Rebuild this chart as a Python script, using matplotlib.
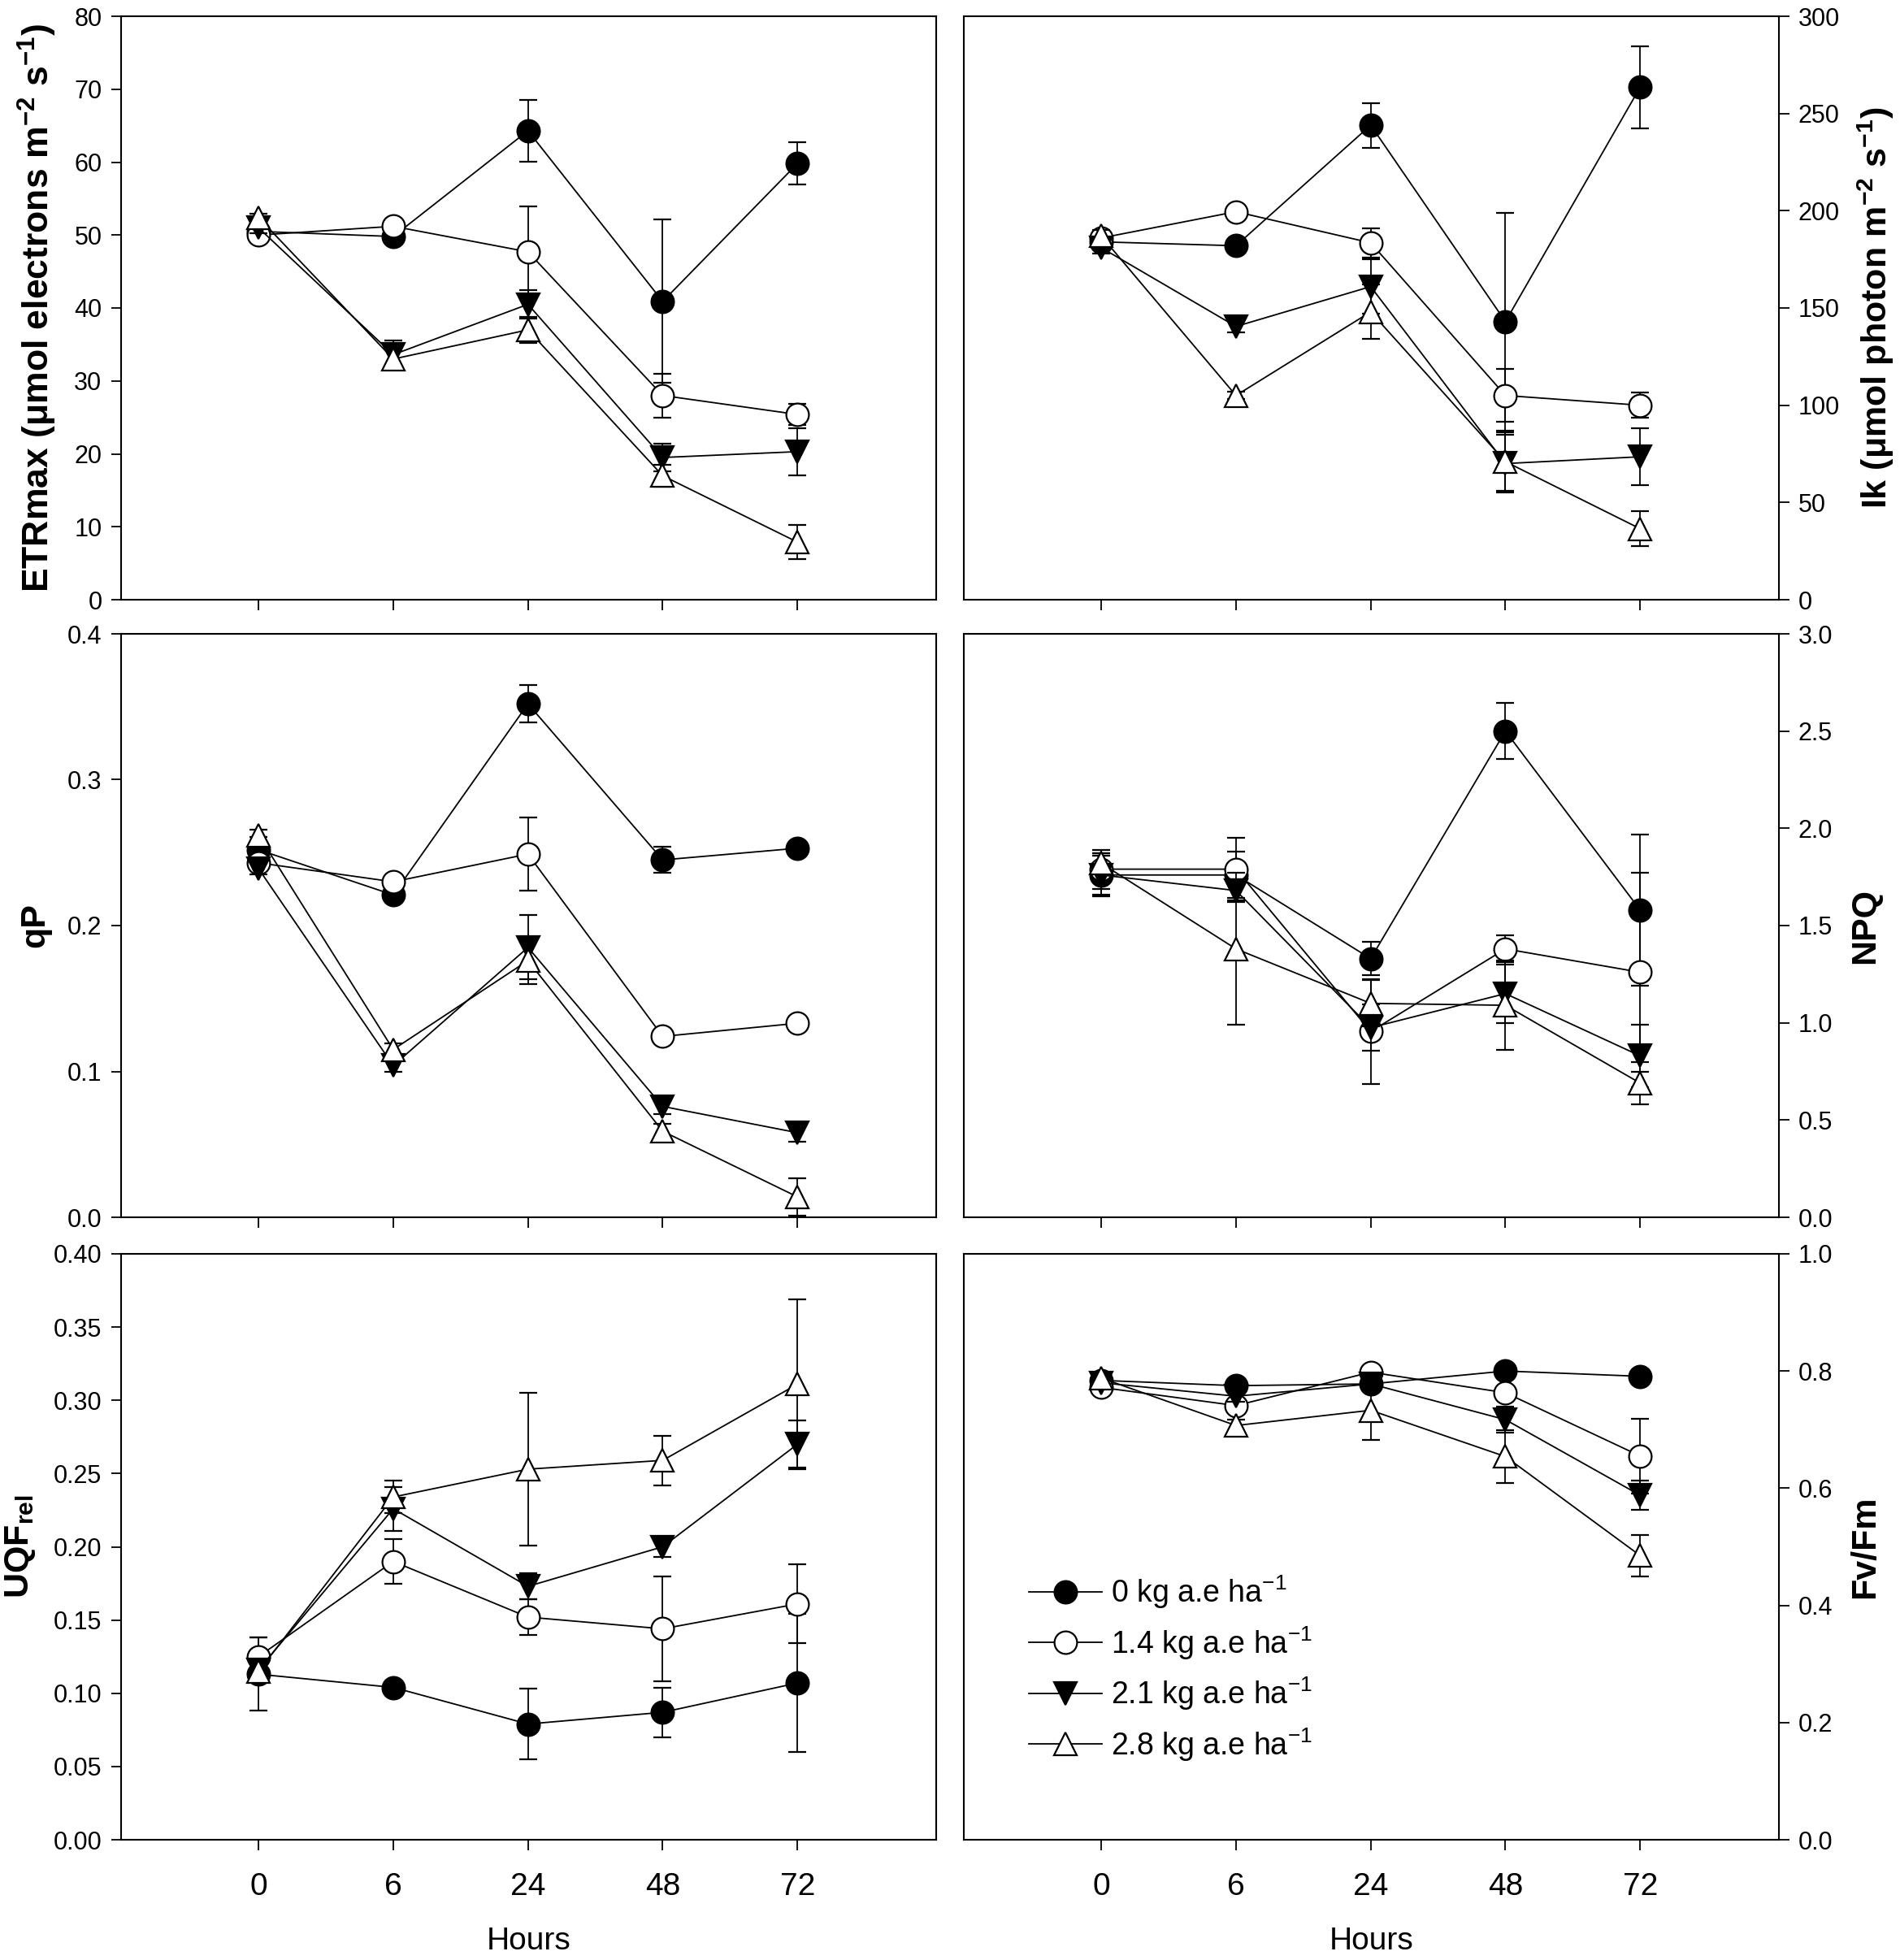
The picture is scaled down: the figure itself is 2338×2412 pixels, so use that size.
import matplotlib
matplotlib.use("Agg")
import matplotlib.pyplot as plt
from matplotlib import font_manager as fm
from matplotlib.lines import Line2D
import numpy as np

names = {f.name for f in fm.fontManager.ttflist}
NARROW = "Liberation Sans Narrow" if "Liberation Sans Narrow" in names else "Liberation Sans"
SANS = "Liberation Sans"

plt.rcParams["font.family"] = [SANS, "DejaVu Sans"]
plt.rcParams["mathtext.default"] = "regular"

# ---------------- data ----------------
hours = ["0", "6", "24", "48", "72"]
treatments = ["0 kg a.e ha$^{-1}$", "1.4 kg a.e ha$^{-1}$",
              "2.1 kg a.e ha$^{-1}$", "2.8 kg a.e ha$^{-1}$"]

etr_0 = [50.5, 49.8, 64.3, 40.9, 59.8]
etr_0_err = [0.5, 0.5, 4.2, 11.2, 2.9]
etr_14 = [50.0, 51.2, 47.7, 28.0, 25.4]
etr_14_err = [0.5, 0.5, 6.2, 3.0, 1.4]
etr_21 = [51.0, 33.6, 40.5, 19.5, 20.3]
etr_21_err = [0.8, 1.9, 2.0, 1.9, 3.2]
etr_28 = [52.4, 33.0, 37.0, 17.0, 7.9]
etr_28_err = [0.5, 1.2, 1.8, 1.5, 2.3]

ik_0 = [184, 182, 244, 143, 263.5]
ik_0_err = [3, 2, 11.5, 56, 21]
ik_14 = [186, 199.5, 183.5, 105, 100]
ik_14_err = [3, 2, 7.5, 13.5, 6.5]
ik_21 = [181, 140.5, 161, 70, 73.5]
ik_21_err = [3, 3, 14, 15, 14.5]
ik_28 = [187, 105, 148, 71, 36.5]
ik_28_err = [3, 2, 14, 15, 9]

qp_0 = [0.252, 0.221, 0.352, 0.245, 0.253]
qp_0_err = [0.009, 0.003, 0.013, 0.009, 0.003]
qp_14 = [0.243, 0.230, 0.249, 0.124, 0.133]
qp_14_err = [0.004, 0.003, 0.025, 0.003, 0.003]
qp_21 = [0.239, 0.104, 0.185, 0.076, 0.058]
qp_21_err = [0.004, 0.004, 0.022, 0.005, 0.006]
qp_28 = [0.262, 0.115, 0.176, 0.059, 0.014]
qp_28_err = [0.004, 0.004, 0.016, 0.005, 0.013]

npq_0 = [1.76, 1.76, 1.33, 2.50, 1.58]
npq_0_err = [0.11, 0.12, 0.085, 0.145, 0.39]
npq_14 = [1.79, 1.79, 0.955, 1.38, 1.26]
npq_14_err = [0.10, 0.16, 0.27, 0.07, 0.51]
npq_21 = [1.76, 1.68, 0.975, 1.15, 0.83]
npq_21_err = [0.10, 0.06, 0.12, 0.15, 0.16]
npq_28 = [1.82, 1.38, 1.10, 1.09, 0.69]
npq_28_err = [0.05, 0.39, 0.12, 0.23, 0.11]

uqf_0 = [0.113, 0.104, 0.079, 0.087, 0.107]
uqf_0_err = [0.025, 0.004, 0.024, 0.017, 0.047]
uqf_14 = [0.125, 0.190, 0.152, 0.144, 0.161]
uqf_14_err = [0.013, 0.015, 0.012, 0.036, 0.027]
uqf_21 = [0.116, 0.226, 0.173, 0.200, 0.270]
uqf_21_err = [0.005, 0.015, 0.009, 0.007, 0.016]
uqf_28 = [0.115, 0.234, 0.253, 0.259, 0.311]
uqf_28_err = [0.005, 0.011, 0.052, 0.017, 0.058]

fvfm_0 = [0.784, 0.775, 0.778, 0.800, 0.791]
fvfm_0_err = [0.005, 0.005, 0.005, 0.005, 0.005]
fvfm_14 = [0.772, 0.741, 0.798, 0.763, 0.655]
fvfm_14_err = [0.005, 0.010, 0.005, 0.010, 0.064]
fvfm_21 = [0.780, 0.757, 0.778, 0.717, 0.588]
fvfm_21_err = [0.005, 0.010, 0.010, 0.022, 0.025]
fvfm_28 = [0.788, 0.707, 0.733, 0.654, 0.485]
fvfm_28_err = [0.005, 0.010, 0.050, 0.045, 0.035]

# ---------------- styles ----------------
styles = [
    dict(marker="o", mfc="black", ms=20),
    dict(marker="o", mfc="white", ms=20),
    dict(marker="v", mfc="black", ms=20),
    dict(marker="^", mfc="white", ms=20),
]

panels = [
    dict(series=[(etr_0, etr_0_err), (etr_14, etr_14_err), (etr_21, etr_21_err), (etr_28, etr_28_err)],
         ylim=(0, 80), ticks=np.arange(0, 81, 10), fmt="{:.0f}",
         label="ETRmax (μmol electrons m$^{-2}$ s$^{-1}$)", side="left", lsize=32),
    dict(series=[(ik_0, ik_0_err), (ik_14, ik_14_err), (ik_21, ik_21_err), (ik_28, ik_28_err)],
         ylim=(0, 300), ticks=np.arange(0, 301, 50), fmt="{:.0f}",
         label="Ik (μmol photon m$^{-2}$ s$^{-1}$)", side="right", lsize=31),
    dict(series=[(qp_0, qp_0_err), (qp_14, qp_14_err), (qp_21, qp_21_err), (qp_28, qp_28_err)],
         ylim=(0, 0.4), ticks=np.arange(0, 0.41, 0.1), fmt="{:.1f}",
         label="qP", side="left", lsize=31),
    dict(series=[(npq_0, npq_0_err), (npq_14, npq_14_err), (npq_21, npq_21_err), (npq_28, npq_28_err)],
         ylim=(0, 3.0), ticks=np.arange(0, 3.01, 0.5), fmt="{:.1f}",
         label="NPQ", side="right", lsize=31),
    dict(series=[(uqf_0, uqf_0_err), (uqf_14, uqf_14_err), (uqf_21, uqf_21_err), (uqf_28, uqf_28_err)],
         ylim=(0, 0.40), ticks=np.arange(0, 0.401, 0.05), fmt="{:.2f}",
         label="UQF$_{rel}$", side="left", lsize=31),
    dict(series=[(fvfm_0, fvfm_0_err), (fvfm_14, fvfm_14_err), (fvfm_21, fvfm_21_err), (fvfm_28, fvfm_28_err)],
         ylim=(0, 1.0), ticks=np.arange(0, 1.01, 0.2), fmt="{:.1f}",
         label="Fv/Fm", side="right", lsize=31),
]

W, H = 2338, 2412
fig = plt.figure(figsize=(W / 100, H / 100), dpi=100)

col_x = [149 / W, 1186 / W]
col_w = 1003 / W
row_top = [20, 780, 1543]
row_bot = [738, 1498, 2264]

x = np.arange(len(hours))
for i, p in enumerate(panels):
    r, c = divmod(i, 2)
    ax = fig.add_axes([col_x[c], 1 - row_bot[r] / H, col_w, (row_bot[r] - row_top[r]) / H])
    for k, ((vals, errs), st) in enumerate(zip(p["series"], styles)):
        ax.errorbar(x, vals, yerr=errs, color="black", lw=1.3, elinewidth=1.3,
                    capsize=8, capthick=1.3, marker=st["marker"], ms=st["ms"],
                    mfc=st["mfc"], mec="black", mew=1.6, zorder=3 + k)
    ax.set_xlim(-1.02, 5.03)
    ax.set_ylim(*p["ylim"])
    ax.set_xticks(x)
    ax.set_yticks(p["ticks"])
    ax.set_yticklabels([p["fmt"].format(t) for t in p["ticks"]], family=NARROW, fontsize=22)
    if r == 2:
        ax.set_xticklabels(hours, family=NARROW, fontsize=28)
        ax.set_xlabel("Hours", family=NARROW, fontsize=28, labelpad=22)
    else:
        ax.set_xticklabels([])
    ax.tick_params(axis="x", direction="out", length=9, width=1.3, pad=20, top=False)
    if p["side"] == "right":
        ax.yaxis.tick_right()
        ax.yaxis.set_label_position("right")
        ax.tick_params(axis="y", direction="out", length=9, width=1.3, pad=8,
                       left=False, right=True, labelleft=False, labelright=True)
    else:
        ax.tick_params(axis="y", direction="out", length=9, width=1.3, pad=8,
                       left=True, right=False)
    ax.set_ylabel(p["label"], fontsize=p["lsize"], fontweight="bold", labelpad=14)
    for s in ax.spines.values():
        s.set_linewidth(1.5)
    if i == 5:
        handles = [Line2D([], [], color="black", lw=1.3, marker=st["marker"], ms=st["ms"],
                          mfc=st["mfc"], mec="black", mew=1.6) for st in styles]
        ax.legend(handles, treatments, loc="upper left", bbox_to_anchor=(0.065, 0.475),
                  frameon=False, fontsize=27, handlelength=2.4, handletextpad=0.3,
                  labelspacing=0.45, borderaxespad=0)

fig.savefig("out.png", dpi=100)
